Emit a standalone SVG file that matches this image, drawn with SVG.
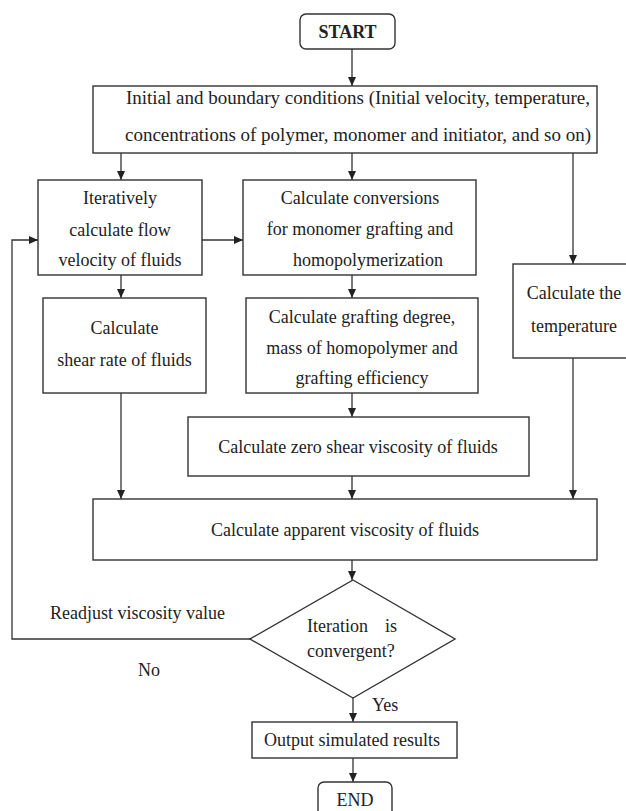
<svg xmlns="http://www.w3.org/2000/svg" width="626" height="811" viewBox="0 0 626 811">
<defs>
<marker id="arr" markerWidth="10" markerHeight="10" refX="9" refY="4" orient="auto" markerUnits="userSpaceOnUse">
<path d="M0,0 L9,4 L0,8 Z" fill="#222"/>
</marker>
<style>
.box{fill:#fff;stroke:#333;stroke-width:1.4}
.t{font-family:"Liberation Serif","Times New Roman",serif;font-size:18px;fill:#222;text-anchor:middle}
.tl{font-family:"Liberation Serif","Times New Roman",serif;font-size:18px;fill:#222}
.big{font-size:19px}
.c{fill:none;stroke:#333;stroke-width:1.3}
.ca{fill:none;stroke:#333;stroke-width:1.3;marker-end:url(#arr)}
</style>
</defs>
<rect width="626" height="811" fill="#fff"/>
<g id="connectors">
<line class="ca" x1="352" y1="49" x2="352" y2="86"/>
<line class="ca" x1="121" y1="153" x2="121" y2="180"/>
<line class="ca" x1="352" y1="153" x2="352" y2="180"/>
<line class="ca" x1="573" y1="153" x2="573" y2="264"/>
<line class="ca" x1="202" y1="240" x2="243" y2="240"/>
<line class="ca" x1="121" y1="275" x2="121" y2="298"/>
<line class="ca" x1="352" y1="275" x2="352" y2="298"/>
<line class="ca" x1="352" y1="393" x2="352" y2="417"/>
<line class="ca" x1="121" y1="393" x2="121" y2="499"/>
<line class="ca" x1="352" y1="476" x2="352" y2="499"/>
<line class="ca" x1="573" y1="358" x2="573" y2="499"/>
<line class="ca" x1="352" y1="560" x2="352" y2="580"/>
<polyline class="ca" points="250,639 12,639 12,240 38,240"/>
<line class="ca" x1="353" y1="698" x2="353" y2="722"/>
<line class="ca" x1="353" y1="758" x2="353" y2="782"/>
<text class="tl" x="50" y="619">Readjust viscosity value</text>
<text class="tl" x="138" y="676">No</text>
<text class="tl" x="372" y="711">Yes</text>
</g>
<g id="start">
<rect class="box" x="300" y="14" width="95" height="35" rx="6"/>
<text class="t" x="347.5" y="38" font-weight="bold">START</text>
</g>
<g id="init">
<rect class="box" x="93" y="86" width="504" height="67"/>
<text class="t big" x="358" y="104">Initial and boundary conditions (Initial velocity, temperature,</text>
<text class="t big" x="358" y="141">concentrations of polymer, monomer and initiator, and so on)</text>
</g>
<g id="velocity">
<rect class="box" x="38" y="180" width="164" height="95"/>
<text class="t" x="120" y="204">Iteratively</text>
<text class="t" x="120" y="236">calculate flow</text>
<text class="t" x="120" y="266">velocity of fluids</text>
</g>
<g id="conversions">
<rect class="box" x="243" y="180" width="233" height="95"/>
<text class="t" x="360" y="204">Calculate conversions</text>
<text class="t" x="360" y="235">for monomer grafting and</text>
<text class="t" x="368" y="266">homopolymerization</text>
</g>
<g id="shear">
<rect class="box" x="43" y="298" width="163" height="95"/>
<text class="t" x="124.5" y="334">Calculate</text>
<text class="t" x="124.5" y="366">shear rate of fluids</text>
</g>
<g id="grafting">
<rect class="box" x="246" y="298" width="232" height="95"/>
<text class="t" x="362" y="323">Calculate grafting degree,</text>
<text class="t" x="362" y="354">mass of homopolymer and</text>
<text class="t" x="362" y="384">grafting efficiency</text>
</g>
<g id="temperature">
<rect class="box" x="513" y="264" width="120" height="94"/>
<text class="t" x="574" y="299">Calculate the</text>
<text class="t" x="574" y="332">temperature</text>
</g>
<g id="zeroshear">
<rect class="box" x="188" y="417" width="341" height="59"/>
<text class="t" x="358" y="453">Calculate zero shear viscosity of fluids</text>
</g>
<g id="apparent">
<rect class="box" x="93" y="499" width="504" height="61"/>
<text class="t" x="345" y="536">Calculate apparent viscosity of fluids</text>
</g>
<g id="decision">
<polygon class="box" points="353,580 455,639 353,698 250,639"/>
<text class="tl" x="307" y="632">Iteration</text>
<text class="tl" x="385" y="632">is</text>
<text class="tl" x="307" y="657">convergent?</text>
</g>
<g id="output">
<rect class="box" x="252" y="722" width="205" height="36"/>
<text class="t" x="352" y="746">Output simulated results</text>
</g>
<g id="end">
<rect class="box" x="318" y="782" width="74" height="40" rx="6"/>
<text class="t" x="355" y="806">END</text>
</g>
</svg>
